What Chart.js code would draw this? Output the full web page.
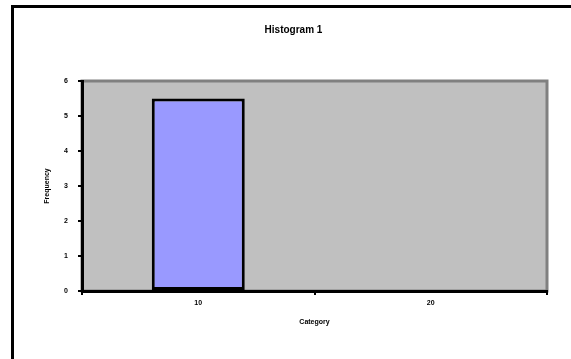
<!DOCTYPE html>
<html>
<head>
<meta charset="utf-8">
<script src="https://cdn.jsdelivr.net/npm/chart.js@4/dist/chart.umd.min.js"></script>
<style>
  html, body { margin: 0; padding: 0; background: #ffffff; }
  #wrap { width: 571px; height: 359px; }
</style>
</head>
<body>
<div id="wrap"><canvas id="c" width="571" height="359"></canvas></div>
<script>
// Histogram data
const categories = ['10', '20'];
const frequencies = [5.5, 0];
const yMin = 0;
const yMax = 6;
const yStep = 1;

const titleText = 'Histogram 1';
const xTitle = 'Category';
const yTitle = 'Frequency';

// Grey plot area with a darker frame, plus the outer chart border
const plotBackground = {
  id: 'plotBackground',
  beforeDraw(chart) {
    const { ctx, chartArea: a } = chart;
    ctx.save();
    ctx.fillStyle = '#ffffff';
    ctx.fillRect(0, 0, chart.width, chart.height);
    ctx.strokeStyle = '#000000';
    ctx.lineWidth = 3;
    ctx.strokeRect(12.5, 6.5, 700, 500);
    ctx.fillStyle = '#C0C0C0';
    ctx.fillRect(a.left, a.top, a.right - a.left, a.bottom - a.top);
    ctx.strokeStyle = '#808080';
    ctx.lineWidth = 3;
    ctx.strokeRect(a.left, a.top, a.right - a.left, a.bottom - a.top);
    ctx.restore();
  }
};

const fontFamily = '"Liberation Sans", Arial, sans-serif';

new Chart(document.getElementById('c'), {
  type: 'bar',
  data: {
    labels: categories,
    datasets: [{
      data: frequencies,
      backgroundColor: '#9999FF',
      borderColor: '#000000',
      borderWidth: 3,
      borderSkipped: false,
      barPercentage: 0.4,
      categoryPercentage: 1.0
    }]
  },
  options: {
    responsive: false,
    animation: false,
    devicePixelRatio: 1,
    layout: { padding: { left: 40, right: 24, top: 0, bottom: 0 } },
    plugins: {
      legend: { display: false },
      tooltip: { enabled: false },
      title: {
        display: true,
        text: titleText,
        color: '#000000',
        font: { family: fontFamily, size: 10, weight: 'bold', lineHeight: 1.2 },
        padding: { top: 24, bottom: 45 }
      }
    },
    scales: {
      x: {
        afterFit(scale) { scale.height = 68; },
        border: { display: true, color: '#000000', width: 3 },
        grid: {
          offset: true,
          drawOnChartArea: false,
          drawTicks: true,
          tickLength: 4,
          color: '#000000',
          lineWidth: 2
        },
        ticks: {
          color: '#000000',
          padding: 4,
          font: { family: fontFamily, size: 7, weight: 'bold' }
        },
        title: {
          display: true,
          text: xTitle,
          color: '#000000',
          font: { family: fontFamily, size: 7, weight: 'bold', lineHeight: 1.2 },
          padding: { top: 0, bottom: 33 }
        }
      },
      y: {
        min: yMin,
        max: yMax,
        afterFit(scale) { scale.width = 42; },
        border: { display: true, color: '#000000', width: 3 },
        grid: {
          drawOnChartArea: false,
          drawTicks: true,
          tickLength: 4,
          color: '#000000',
          lineWidth: 2
        },
        ticks: {
          stepSize: yStep,
          color: '#000000',
          padding: 10,
          font: { family: fontFamily, size: 7, weight: 'bold' }
        },
        title: {
          display: true,
          text: yTitle,
          color: '#000000',
          font: { family: fontFamily, size: 7, weight: 'bold', lineHeight: 1.2 },
          padding: { top: 3, bottom: 0 }
        }
      }
    }
  },
  plugins: [plotBackground]
});
</script>
</body>
</html>
